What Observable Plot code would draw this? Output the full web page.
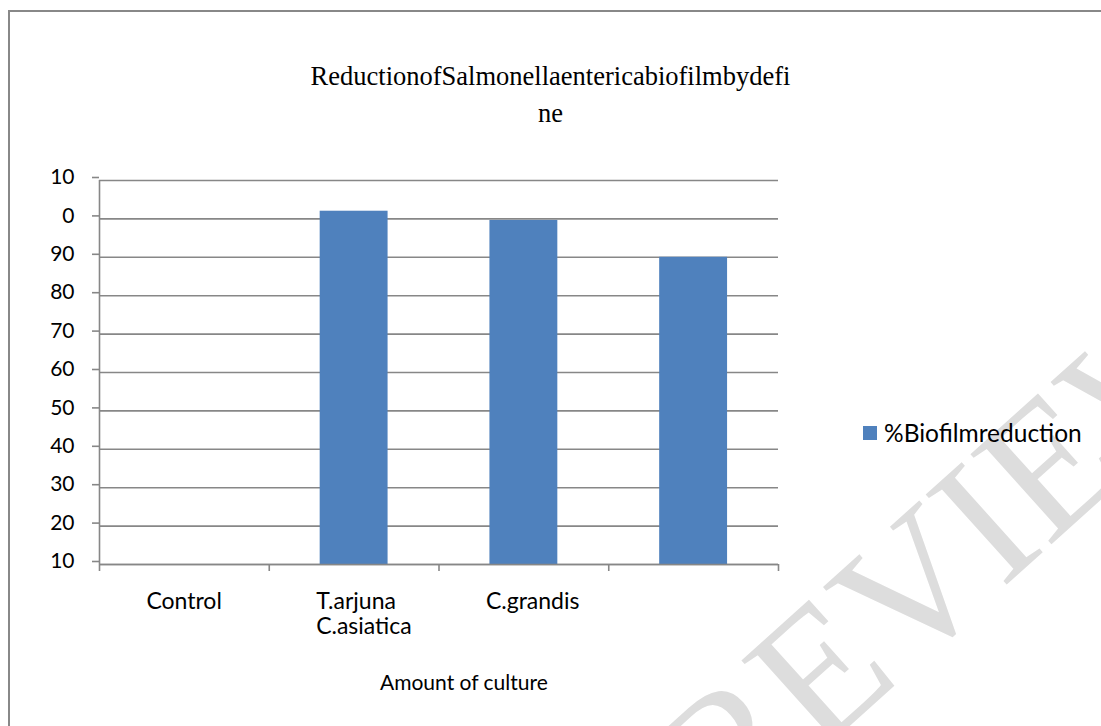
<!DOCTYPE html>
<html><head><meta charset="utf-8">
<script src="https://cdn.jsdelivr.net/npm/d3@7"></script>
<script src="https://cdn.jsdelivr.net/npm/@observablehq/plot@0.6"></script>
<style>
html,body{margin:0;padding:0;background:#fff;}
#wrap{position:relative;width:1101px;height:726px;overflow:hidden;background:#fff;}
#border{position:absolute;left:8px;top:10px;width:1200px;height:800px;border-left:2px solid #888;border-top:2px solid #888;}
#wm{position:absolute;left:0;top:0;}
#chart{position:absolute;left:0;top:0;}
.title{position:absolute;left:0;width:1101px;text-align:center;font-family:"Liberation Serif","Times New Roman",serif;font-size:26.5px;color:#000;}
#xlabel{position:absolute;left:380px;top:669px;font-family:Lato,sans-serif;font-size:21px;color:#000;white-space:nowrap;}
#legend{position:absolute;left:863px;top:418px;font-family:Lato,sans-serif;font-size:24.5px;color:#000;white-space:nowrap;display:flex;align-items:center;}
#legend span.sw{display:inline-block;width:14px;height:14px;background:#4F81BD;margin-right:7px;}
</style></head><body>
<div id="wrap">
<svg id="wm" width="1101" height="726"><text x="915" y="585" text-anchor="middle" dy="0.33em" transform="rotate(-42 915 585)" font-family="Liberation Serif, serif" font-size="185" fill="#dddddd">PREVIEW</text></svg>
<div id="border"></div>
<div class="title" id="t1" style="top:61px">ReductionofSalmonellaentericabiofilmbydefi</div>
<div class="title" id="t2" style="top:98px">ne</div>
<div id="chart"></div>
<div id="xlabel">Amount of culture</div>
<div id="legend"><span class="sw"></span><span id="legtext">%Biofilmreduction</span></div>
</div>
<script>
const categories = ["Control", "T.arjuna", "C.asiatica", "C.grandis"];
const values = [0, 92, 89.6, 80];
const xTickLabels = ["Control", "T.arjuna\nC.asiatica", "C.grandis", ""];
const yTicks = [0, 10, 20, 30, 40, 50, 60, 70, 80, 90, 100];
const yTickLabels = ["10", "20", "30", "40", "50", "60", "70", "80", "90", "0", "10"];

const data = categories.map((c, i) => ({i, c, v: values[i]}));
const gridColor = "#878787";

const chart = Plot.plot({
  width: 1101,
  height: 726,
  marginLeft: 99,
  marginRight: 323,
  marginTop: 180,
  marginBottom: 162,
  style: {fontFamily: "Lato, sans-serif", fontSize: "20px", color: "#000", background: "transparent", overflow: "visible"},
  x: {domain: [0, categories.length]},
  y: {domain: [0, 100]},
  marks: [
    Plot.ruleY(yTicks, {stroke: gridColor, strokeWidth: 1.6}),
    Plot.rectY(data, {x1: d => d.i + 0.3, x2: d => d.i + 0.7, y1: 0, y2: "v", fill: "#4F81BD"}),
    Plot.ruleY([0], {stroke: gridColor, strokeWidth: 1.6}),
    Plot.ruleX([0], {stroke: gridColor, strokeWidth: 1.6}),
    Plot.axisY({ticks: yTicks, tickFormat: d => yTickLabels[yTicks.indexOf(d)], tickSize: 7, tickPadding: 18, stroke: gridColor, strokeWidth: 1.6, strokeOpacity: 1, dy: -3, fill: "#000", fontSize: 21, label: null}),
    Plot.axisX({ticks: d3.range(categories.length + 1), tickFormat: () => "", tickSize: 7, stroke: gridColor, strokeWidth: 1.6, strokeOpacity: 1, label: null}),
    Plot.axisX({ticks: d3.range(categories.length).map(i => i + 0.5), tickFormat: d => xTickLabels[Math.floor(d)], tickSize: 0, tickPadding: 27, lineHeight: 1.08, textAnchor: "start", dx: -38, fill: "#000", fontSize: 23, label: null})
  ]
});
document.getElementById("chart").appendChild(chart);
</script>
</body></html>
